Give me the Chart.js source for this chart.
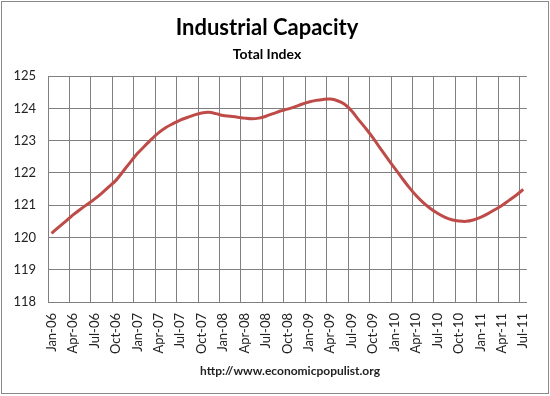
<!DOCTYPE html>
<html>
<head>
<meta charset="utf-8">
<script src="https://cdn.jsdelivr.net/npm/chart.js@4/dist/chart.umd.min.js"></script>
<style>
  html, body { margin: 0; padding: 0; background: #fff; }
  #wrap { position: relative; width: 550px; height: 396px; }
  #frame { position: absolute; left: 1px; top: 1px; width: 546px; height: 391px; border: 1px solid #8a8a8a; pointer-events: none; }
</style>
</head>
<body>
<div id="wrap">
  <canvas id="chart" width="550" height="396"></canvas>
  <div id="frame"></div>
</div>
<script>
// monthly index, Jan-06 .. Jul-11
const months = [
  'Jan-06','Feb-06','Mar-06','Apr-06','May-06','Jun-06','Jul-06','Aug-06','Sep-06','Oct-06','Nov-06','Dec-06',
  'Jan-07','Feb-07','Mar-07','Apr-07','May-07','Jun-07','Jul-07','Aug-07','Sep-07','Oct-07','Nov-07','Dec-07',
  'Jan-08','Feb-08','Mar-08','Apr-08','May-08','Jun-08','Jul-08','Aug-08','Sep-08','Oct-08','Nov-08','Dec-08',
  'Jan-09','Feb-09','Mar-09','Apr-09','May-09','Jun-09','Jul-09','Aug-09','Sep-09','Oct-09','Nov-09','Dec-09',
  'Jan-10','Feb-10','Mar-10','Apr-10','May-10','Jun-10','Jul-10','Aug-10','Sep-10','Oct-10','Nov-10','Dec-10',
  'Jan-11','Feb-11','Mar-11','Apr-11','May-11','Jun-11','Jul-11'
];
const capacity = [
  120.13, 120.32, 120.51, 120.70, 120.87, 121.03, 121.19, 121.37, 121.57, 121.77, 122.05, 122.33,
  122.60, 122.83, 123.05, 123.25, 123.41, 123.53, 123.64, 123.72, 123.80, 123.86, 123.88, 123.84,
  123.78, 123.76, 123.73, 123.70, 123.68, 123.70, 123.76, 123.84, 123.92, 123.98, 124.05, 124.13,
  124.20, 124.25, 124.28, 124.29, 124.24, 124.13, 123.92, 123.64, 123.37, 123.08, 122.76, 122.45,
  122.15, 121.85, 121.56, 121.30, 121.08, 120.90, 120.75, 120.63, 120.55, 120.51, 120.50, 120.54,
  120.62, 120.73, 120.86, 120.99, 121.15, 121.31, 121.49
];
const yMin = 118, yMax = 125;
const titleText = 'Industrial Capacity';
const subtitleText = 'Total Index';
const footerText = 'http://www.economicpopulist.org';

const gridCol = '#808080';
const fontFam = 'Lato, "Open Sans", sans-serif';

const footer = {
  id: 'footer',
  afterDraw(chart) {
    const c = chart.ctx;
    c.save();
    c.font = 'bold 12px ' + fontFam;
    c.fillStyle = '#222';
    c.textAlign = 'center';
    c.textBaseline = 'middle';
    c.fillText(footerText, 290, 371);
    c.restore();
  }
};

new Chart(document.getElementById('chart'), {
  type: 'line',
  data: {
    labels: months,
    datasets: [{
      data: capacity,
      borderColor: '#BE4B48',
      borderWidth: 3,
      pointRadius: 0,
      tension: 0.3,
      fill: false
    }]
  },
  options: {
    responsive: false,
    animation: false,
    layout: { padding: { left: 0, right: 16, top: 0, bottom: 40 } },
    plugins: {
      legend: { display: false },
      tooltip: { enabled: false },
      title: {
        display: true,
        text: titleText,
        color: '#000',
        font: { family: fontFam, size: 22, weight: 'bold' },
        padding: { top: 15, bottom: 0 }
      },
      subtitle: {
        display: true,
        text: subtitleText,
        color: '#000',
        font: { family: fontFam, size: 14, weight: 'bold' },
        padding: { top: 5, bottom: 13 }
      }
    },
    scales: {
      x: {
        offset: true,
        afterFit(s) { s.height = 54; },
        grid: {
          offset: true,
          drawTicks: false,
          color: ctx => (ctx.index % 3 === 0 ? gridCol : 'rgba(0,0,0,0)')
        },
        border: { color: gridCol },
        ticks: {
          autoSkip: false,
          minRotation: 90,
          maxRotation: 90,
          padding: 11,
          color: '#222',
          font: { family: fontFam, size: 13 },
          callback(v, i) { return i % 3 === 0 ? months[i] : ''; }
        }
      },
      y: {
        min: yMin,
        max: yMax,
        afterFit(s) { s.width = 48; },
        grid: { color: gridCol, drawTicks: false },
        border: { color: gridCol },
        ticks: {
          stepSize: 1,
          padding: 12,
          color: '#222',
          font: { family: fontFam, size: 13 }
        }
      }
    }
  },
  plugins: [footer]
});
</script>
</body>
</html>
